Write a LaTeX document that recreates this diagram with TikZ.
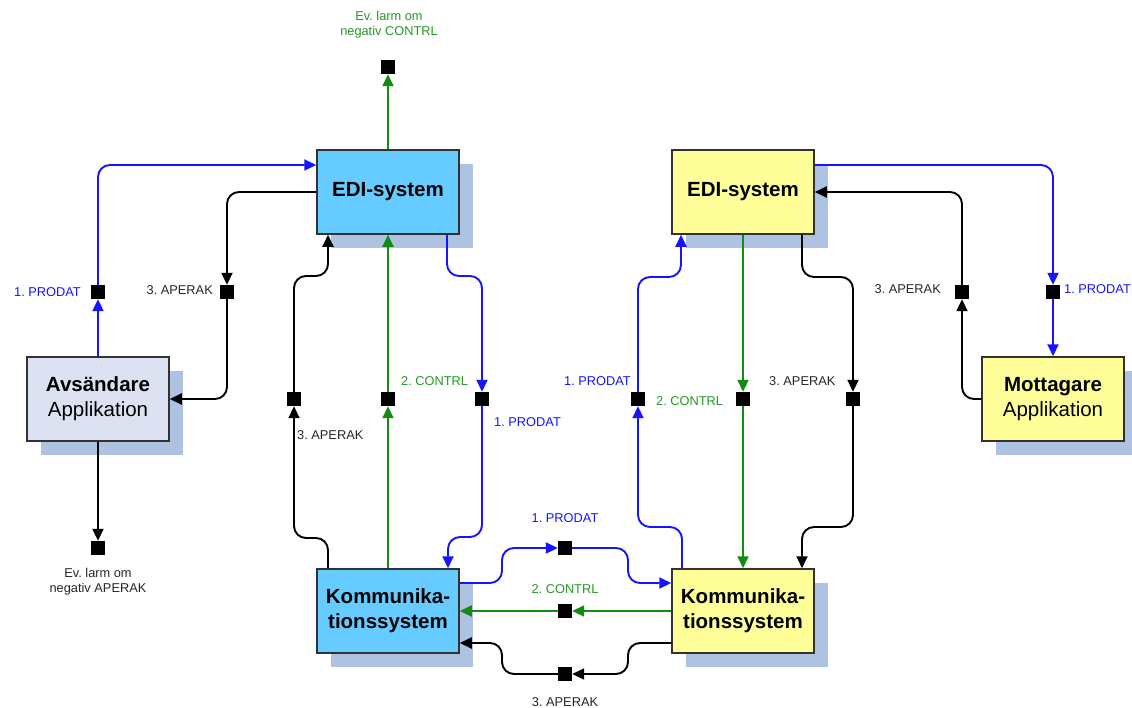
\documentclass[tikz,border=0pt]{standalone}
\usepackage{fontspec}
\setmainfont{Liberation Sans}
\usetikzlibrary{arrows.meta,shadows,calc}
\definecolor{bluec}{RGB}{20,20,255}
\definecolor{greenc}{RGB}{20,140,20}
\definecolor{greent}{RGB}{40,150,40}
\definecolor{shadowc}{RGB}{174,194,226}
\definecolor{edib}{RGB}{102,204,255}
\definecolor{ediy}{RGB}{255,255,153}
\definecolor{appb}{RGB}{220,226,242}
\definecolor{bordc}{RGB}{50,50,50}
\tikzset{
  box/.style={draw=bordc, line width=1.5pt, minimum width=142pt, minimum height=84pt, inner sep=0pt, align=center,
    font=\fontsize{20.5}{25}\selectfont,
    general shadow={fill=shadowc, shadow xshift=14pt, shadow yshift=-14pt}},
  sq/.style={fill=black, draw=none, minimum size=14pt, inner sep=0pt},
  conn/.style={line width=1.9pt, rounded corners=12pt, -{Triangle[length=12pt,width=11pt]}},
  bc/.style={conn, draw=bluec},
  gc/.style={conn, draw=greenc},
  kc/.style={conn, draw=black},
  lab/.style={font=\fontsize{12.8}{15}\selectfont, inner sep=0pt, align=center},
  lb/.style={lab, text=bluec},
  lg/.style={lab, text=greent},
  lk/.style={lab, text=black!85},
}
\frenchspacing
\begin{document}
\begin{tikzpicture}[x=1pt,y=-1pt]
\useasboundingbox (0,0) rectangle (1132,707);
% boxes
\node[box, fill=appb] (avs) at (98,399) {\textbf{Avsändare}\\Applikation};
\node[box, fill=edib] (edi1) at (388,192) {\textbf{EDI-system}};
\node[box, fill=ediy] (edi2) at (743,192) {\textbf{EDI-system}};
\node[box, fill=ediy] (mot) at (1053,399) {\textbf{Mottagare}\\Applikation};
\node[box, fill=edib] (kom1) at (388,611) {\textbf{Kommunika-}\\\textbf{tionssystem}};
\node[box, fill=ediy] (kom2) at (743,611) {\textbf{Kommunika-}\\\textbf{tionssystem}};
% squares
\node[sq] (sA1) at (98,292) {};
\node[sq] (sA2) at (227,292) {};
\node[sq] (sA3) at (98,548) {};
\node[sq] (sT) at (388,67) {};
\node[sq] (sL1) at (294,399) {};
\node[sq] (sL2) at (388,399) {};
\node[sq] (sL3) at (482,399) {};
\node[sq] (sR1) at (638,399) {};
\node[sq] (sR2) at (743,399) {};
\node[sq] (sR3) at (853,399) {};
\node[sq] (sR4) at (962,292) {};
\node[sq] (sR5) at (1053,292) {};
\node[sq] (sB1) at (565,548) {};
\node[sq] (sB2) at (565,611) {};
\node[sq] (sB3) at (565,674) {};
% labels
\node[lb, anchor=east] (l1) at (81,292) {1. PRODAT};
\node[lk, anchor=east] (l2) at (213,290) {3. APERAK};
\node[lk] (l3) at (98,582) {Ev. larm om\\negativ APERAK};
\node[lg] (l4) at (389,25) {Ev. larm om\\negativ CONTRL};
\node[lk, anchor=west] (l5) at (297,435) {3. APERAK};
\node[lg, anchor=west] (l6) at (401,381) {2. CONTRL};
\node[lb, anchor=west] (l7) at (494,422) {1. PRODAT};
\node[lb, anchor=east] (l8) at (631,381) {1. PRODAT};
\node[lg, anchor=west] (l9) at (656,401) {2. CONTRL};
\node[lk, anchor=west] (l10) at (769,381) {3. APERAK};
\node[lk, anchor=east] (l11) at (941,289) {3. APERAK};
\node[lb, anchor=west] (l12) at (1064,289) {1. PRODAT};
\node[lb] (l13) at (565,518) {1. PRODAT};
\node[lg] (l14) at (565,589) {2. CONTRL};
\node[lk] (l15) at (565,702) {3. APERAK};
% left side
\draw[bc] (avs.north) -- (sA1.south);
\draw[bc] (sA1.north) |- (edi1.west |- 0,165);
\draw[kc] (edi1.west) -| (sA2.north);
\draw[kc] (sA2.south) |- (avs.east);
\draw[kc] (avs.south) -- (sA3.north);
\draw[gc] (edi1.north) -- (sT.south);
% left EDI bottom
\draw[kc] (kom1.north -| 328,0) -- (328,538) -- (294,538) -- (sL1.south);
\draw[kc] (sL1.north) -- (294,276) -- (328,276) -- (edi1.south -| 328,0);
\draw[gc] (kom1.north) -- (sL2.south);
\draw[gc] (sL2.north) -- (edi1.south);
\draw[bc] (edi1.south -| 447,0) -- (447,276) -- (482,276) -- (sL3.north);
\draw[bc] (sL3.south) -- (482,537) -- (448,537) -- (kom1.north -| 448,0);
% right EDI bottom
\draw[bc] (kom2.north -| 682,0) -- (682,527) -- (638,527) -- (sR1.south);
\draw[bc] (sR1.north) -- (638,277) -- (681,277) -- (edi2.south -| 681,0);
\draw[gc] (edi2.south) -- (sR2.north);
\draw[gc] (sR2.south) -- (kom2.north);
\draw[kc] (edi2.south -| 802,0) -- (802,277) -- (853,277) -- (sR3.north);
\draw[kc] (sR3.south) -- (853,527) -- (802,527) -- (kom2.north -| 802,0);
% right side
\draw[bc] (edi2.east |- 0,165) -| (sR5.north);
\draw[bc] (sR5.south) -- (mot.north);
\draw[kc] (mot.west) -| (sR4.south);
\draw[kc] (sR4.north) |- (edi2.east);
% bottom
\draw[bc] (kom1.east |- 0,583) -- (502,583) -- (502,548) -- (sB1.west);
\draw[bc] (sB1.east) -- (628,548) -- (628,583) -- (kom2.west |- 0,583);
\draw[gc] (kom2.west) -- (sB2.east);
\draw[gc] (sB2.west) -- (kom1.east);
\draw[kc] (kom2.west |- 0,643) -- (628,643) -- (628,674) -- (sB3.east);
\draw[kc] (sB3.west) -- (502,674) -- (502,643) -- (kom1.east |- 0,643);
\end{tikzpicture}
\end{document}
